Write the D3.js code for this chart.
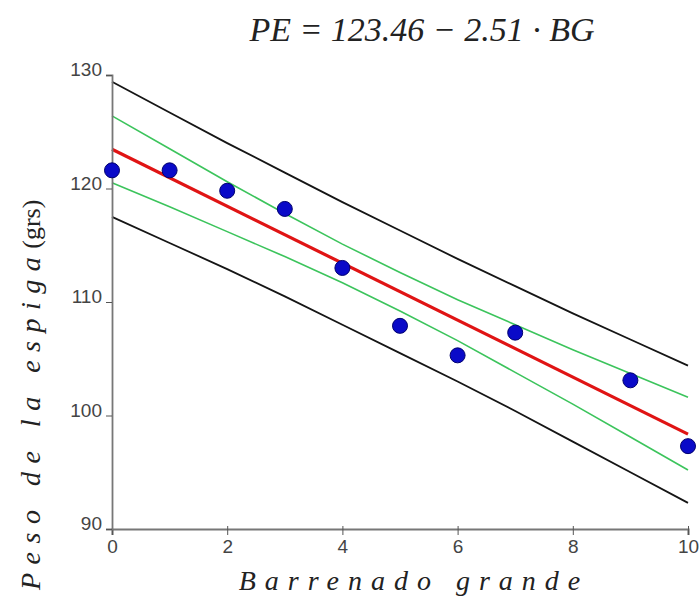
<!DOCTYPE html>
<html>
<head>
<meta charset="utf-8">
<script src="https://cdn.jsdelivr.net/npm/d3@7"></script>
<style>
  body { margin: 0; background: #fff; }
  .serif { font-family: "Liberation Serif", "Times New Roman", serif; fill: #222; }
</style>
</head>
<body>
<svg id="chart" width="699" height="598"></svg>
<script>
// observed points
const barrenado = [0, 1, 2, 3, 4, 5, 6, 7, 9, 10];
const peso = [121.6, 121.6, 119.8, 118.2, 113.0, 107.9, 105.3, 107.3, 103.1, 97.3];

// fitted line PE = 123.46 - 2.51 BG, read at both ends
const fitX = [0, 10];
const fitY = [123.46, 98.36];

// bands at x = 0..10
const bandX = [0, 1, 2, 3, 4, 5, 6, 7, 8, 9, 10];
const confUpper = [126.4, 123.5, 120.6, 117.8, 115.1, 112.6, 110.2, 108.0, 105.8, 103.7, 101.6];
const confLower = [120.5, 118.4, 116.2, 114.0, 111.7, 109.2, 106.6, 103.8, 101.0, 98.1, 95.2];
const predUpper = [129.4, 126.7, 124.0, 121.4, 118.8, 116.3, 113.8, 111.4, 109.0, 106.7, 104.4];
const predLower = [117.5, 115.2, 112.9, 110.5, 108.0, 105.5, 103.0, 100.4, 97.7, 95.0, 92.3];

const xTicks = [0, 2, 4, 6, 8, 10];
const yTicks = [90, 100, 110, 120, 130];

const svg = d3.select('#chart');

const plotLeft = 112, plotRight = 688, plotTop = 75, plotBottom = 529;

const xScale = d3.scaleLinear().domain([0, 10]).range([plotLeft, plotRight]);
const yScale = d3.scaleLinear().domain([90, 130]).range([plotBottom, plotTop]);

const line = d3.line()
  .x((d) => xScale(d[0]))
  .y((d) => yScale(d[1]));

const zip = (xs, ys) => xs.map((x, i) => [x, ys[i]]);

// prediction band (black)
[predUpper, predLower].forEach((ys) => {
  svg.append('path')
    .attr('d', line(zip(bandX, ys)))
    .attr('fill', 'none')
    .attr('stroke', '#151515')
    .attr('stroke-width', 1.8);
});

// confidence band (green)
[confUpper, confLower].forEach((ys) => {
  svg.append('path')
    .attr('d', line(zip(bandX, ys)))
    .attr('fill', 'none')
    .attr('stroke', '#3cc45c')
    .attr('stroke-width', 1.6);
});

// regression line
svg.append('path')
  .attr('d', line(zip(fitX, fitY)))
  .attr('fill', 'none')
  .attr('stroke', '#e01414')
  .attr('stroke-width', 3.2);

// axes
const xAxis = svg.append('g')
  .attr('transform', `translate(0, ${plotBottom})`)
  .call(d3.axisBottom(xScale).tickValues(xTicks).tickSize(6).tickPadding(5).tickFormat(d3.format('d')))
  .attr('font-family', '"Liberation Sans", Arial, sans-serif')
  .attr('font-size', 19);
xAxis.select('.domain').attr('stroke', '#777').attr('stroke-width', 2.2);
xAxis.selectAll('.tick line').attr('stroke', '#555').attr('y1', -3);
xAxis.selectAll('.tick text').attr('fill', '#444');

const yAxis = svg.append('g')
  .attr('transform', `translate(${plotLeft}, 0)`)
  .call(d3.axisLeft(yScale).tickValues(yTicks).tickSize(6).tickPadding(4).tickFormat(d3.format('d')))
  .attr('font-family', '"Liberation Sans", Arial, sans-serif')
  .attr('font-size', 19);
yAxis.select('.domain').attr('stroke', '#777').attr('stroke-width', 1.8);
yAxis.selectAll('.tick line').attr('stroke', '#555');
yAxis.selectAll('.tick text').attr('dy', '0.05em').attr('fill', '#444');

// points
svg.selectAll('circle')
  .data(zip(barrenado, peso))
  .enter()
  .append('circle')
  .attr('cx', (d) => xScale(d[0]))
  .attr('cy', (d) => yScale(d[1]))
  .attr('r', 7.5)
  .attr('fill', '#0a0ac8')
  .attr('stroke', '#00006e')
  .attr('stroke-width', 1);

// title
svg.append('text')
  .attr('class', 'serif')
  .attr('x', 422)
  .attr('y', 41)
  .attr('text-anchor', 'middle')
  .attr('font-size', 34)
  .attr('font-style', 'italic')
  .text('PE = 123.46 \u2212 2.51 \u00b7 BG');

// x label
svg.append('text')
  .attr('class', 'serif')
  .attr('x', 414)
  .attr('y', 590)
  .attr('text-anchor', 'middle')
  .attr('font-size', 28)
  .attr('font-style', 'italic')
  .attr('letter-spacing', 9)
  .text('Barrenado grande');

// y label
const yLabel = svg.append('text')
  .attr('class', 'serif')
  .attr('transform', 'translate(40, 590) rotate(-90)')
  .attr('font-size', 28);
yLabel.append('tspan')
  .attr('font-style', 'italic')
  .attr('letter-spacing', 8.5)
  .text('Peso de la espiga');
yLabel.append('tspan')
  .attr('font-size', 26)
  .text('(grs)');
</script>
</body>
</html>
